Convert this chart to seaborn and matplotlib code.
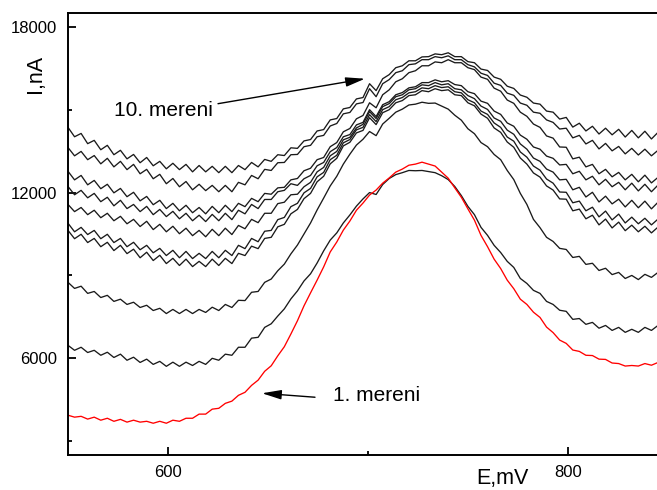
import numpy as np
import pandas as pd
import matplotlib
matplotlib.use("Agg")
import matplotlib.pyplot as plt
import seaborn as sns

# Potential sweep (mV): evenly stepped scan
E_START, E_END, N_POINTS = 550.0, 845.0, 91
potential = np.linspace(E_START, E_END, N_POINTS)

# Current (nA) for each successive measurement, 1 = first scan
run_01 = [3940, 3870, 3900, 3800, 3870, 3760, 3830, 3720, 3790, 3690,
          3760, 3690, 3720, 3650, 3720, 3650, 3760, 3720, 3830, 3830,
          3980, 3980, 4160, 4190, 4370, 4450, 4660, 4770, 5020, 5210,
          5530, 5730, 6090, 6420, 6880, 7360, 7900, 8370, 8830, 9310,
          9850, 10210, 10640, 10970, 11360, 11620, 11910, 12090, 12340, 12530,
          12740, 12850, 12990, 13030, 13100, 13030, 12960, 12740, 12520, 12170,
          11830, 11410, 11000, 10450, 10040, 9590, 9250, 8830, 8520, 8140,
          7950, 7670, 7480, 7130, 6930, 6660, 6540, 6300, 6250, 6110,
          6100, 5970, 5960, 5830, 5810, 5720, 5740, 5720, 5810, 5750,
          5850]
run_02 = [6470, 6290, 6400, 6210, 6290, 6110, 6220, 6030, 6150, 5930,
          6040, 5850, 5970, 5780, 5890, 5710, 5860, 5710, 5860, 5740,
          5890, 5780, 6000, 5930, 6150, 6110, 6400, 6400, 6730, 6760,
          7120, 7250, 7530, 7790, 8150, 8440, 8800, 9060, 9450, 9890,
          10280, 10540, 10900, 11190, 11510, 11770, 12000, 11930, 12290, 12510,
          12650, 12720, 12800, 12790, 12800, 12760, 12720, 12610, 12470, 12220,
          11890, 11500, 11200, 10740, 10450, 10090, 9830, 9510, 9290, 8890,
          8710, 8460, 8350, 8060, 7950, 7740, 7700, 7410, 7440, 7230,
          7300, 7090, 7190, 7010, 7120, 6940, 7050, 6940, 7120, 7010,
          7190]
run_03 = [8750, 8530, 8610, 8350, 8420, 8200, 8280, 8060, 8140, 7950,
          8030, 7840, 7920, 7730, 7810, 7620, 7770, 7620, 7770, 7620,
          7770, 7660, 7850, 7730, 7950, 7840, 8100, 8090, 8390, 8420,
          8750, 8870, 9170, 9410, 9780, 10100, 10500, 10900, 11370, 11800,
          12240, 12590, 13030, 13390, 13720, 13930, 14210, 14060, 14480, 14690,
          14910, 15020, 15170, 15200, 15270, 15230, 15240, 15130, 15020, 14800,
          14620, 14310, 14130, 13810, 13660, 13380, 13190, 12800, 12470, 11970,
          11570, 11030, 10730, 10380, 10230, 9980, 9940, 9650, 9690, 9400,
          9440, 9180, 9260, 9030, 9110, 8890, 9000, 8850, 9040, 8930,
          9110]
run_04 = [10630, 10330, 10490, 10190, 10340, 10040, 10200, 9900, 10090, 9790,
          9950, 9640, 9840, 9540, 9730, 9430, 9620, 9360, 9590, 9320,
          9510, 9320, 9590, 9360, 9620, 9430, 9800, 9720, 10060, 9970,
          10340, 10380, 10760, 10850, 11230, 11390, 11780, 11970, 12390, 12590,
          13040, 13240, 13690, 13820, 14160, 14250, 14710, 14460, 14890, 15000,
          15250, 15330, 15510, 15540, 15690, 15650, 15760, 15690, 15720, 15540,
          15510, 15250, 15140, 14840, 14690, 14340, 14180, 13830, 13640, 13250,
          13030, 12710, 12560, 12240, 12090, 11770, 11760, 11340, 11400, 11050,
          11180, 10830, 11040, 10720, 10930, 10620, 10820, 10580, 10780, 10540,
          10750]
run_05 = [10890, 10580, 10740, 10480, 10630, 10330, 10490, 10190, 10340, 10040,
          10200, 9930, 10090, 9820, 9980, 9720, 9910, 9640, 9870, 9610,
          9800, 9610, 9870, 9640, 9910, 9720, 10090, 9970, 10340, 10220,
          10600, 10630, 11020, 11100, 11490, 11610, 11990, 12150, 12570, 12730,
          13190, 13350, 13800, 13920, 14270, 14360, 14820, 14570, 15000, 15110,
          15360, 15440, 15610, 15650, 15790, 15760, 15870, 15800, 15830, 15650,
          15610, 15360, 15250, 14950, 14830, 14520, 14360, 14010, 13860, 13470,
          13280, 12960, 12810, 12490, 12340, 12020, 12010, 11630, 11690, 11340,
          11470, 11120, 11330, 11010, 11220, 10900, 11110, 10870, 11070, 10830,
          11040]
run_06 = [11570, 11310, 11460, 11200, 11360, 11090, 11250, 10980, 11140, 10870,
          11030, 10770, 10960, 10660, 10850, 10580, 10780, 10510, 10710, 10440,
          10630, 10400, 10670, 10440, 10710, 10480, 10810, 10690, 11030, 10910,
          11250, 11250, 11600, 11650, 11920, 11940, 12210, 12370, 12750, 12910,
          13330, 13490, 13910, 14000, 14340, 14470, 14930, 14680, 15110, 15220,
          15470, 15540, 15720, 15760, 15900, 15870, 15980, 15900, 15940, 15760,
          15720, 15510, 15400, 15130, 15010, 14700, 14580, 14260, 14110, 13760,
          13570, 13250, 13130, 12850, 12740, 12460, 12480, 12100, 12190, 11840,
          12010, 11660, 11870, 11590, 11760, 11480, 11720, 11450, 11690, 11410,
          11650]
run_07 = [12220, 11920, 12080, 11810, 11970, 11670, 11830, 11520, 11720, 11420,
          11570, 11310, 11500, 11200, 11390, 11130, 11320, 11050, 11250, 10980,
          11180, 10950, 11210, 10980, 11250, 11020, 11360, 11230, 11570, 11420,
          11750, 11750, 12030, 12080, 12320, 12260, 12500, 12620, 12970, 13090,
          13480, 13630, 14020, 14100, 14450, 14540, 15000, 14750, 15180, 15290,
          15540, 15620, 15790, 15830, 15980, 15980, 16080, 16010, 16050, 15910,
          15870, 15650, 15580, 15310, 15230, 14950, 14830, 14520, 14400, 14080,
          13930, 13650, 13570, 13320, 13240, 13000, 13020, 12680, 12770, 12460,
          12590, 12280, 12480, 12210, 12370, 12100, 12340, 12060, 12300, 12030,
          12270]
run_08 = [12770, 12460, 12620, 12280, 12440, 12140, 12300, 11990, 12150, 11850,
          12010, 11700, 11860, 11560, 11720, 11420, 11610, 11340, 11540, 11270,
          11460, 11230, 11500, 11270, 11540, 11310, 11610, 11490, 11790, 11670,
          11970, 11940, 12170, 12190, 12460, 12510, 12790, 12880, 13190, 13270,
          13660, 13810, 14200, 14320, 14670, 14790, 15250, 15070, 15540, 15720,
          16010, 16120, 16340, 16410, 16590, 16590, 16730, 16700, 16810, 16700,
          16700, 16520, 16450, 16180, 16100, 15780, 15670, 15350, 15230, 14910,
          14760, 14480, 14360, 14050, 13970, 13650, 13640, 13220, 13280, 12930,
          13020, 12680, 12840, 12570, 12730, 12460, 12660, 12390, 12630, 12350,
          12550]
run_09 = [13630, 13330, 13490, 13190, 13340, 13040, 13240, 12930, 13130, 12830,
          13020, 12680, 12840, 12500, 12660, 12320, 12510, 12210, 12400, 12100,
          12300, 12070, 12260, 12030, 12260, 12030, 12370, 12280, 12620, 12500,
          12840, 12800, 13080, 13090, 13370, 13380, 13660, 13710, 14020, 14070,
          14410, 14500, 14850, 14900, 15210, 15260, 15760, 15470, 15940, 16090,
          16340, 16410, 16630, 16660, 16810, 16810, 16920, 16880, 16950, 16810,
          16810, 16630, 16550, 16320, 16240, 15960, 15880, 15600, 15520, 15240,
          15160, 14910, 14870, 14630, 14540, 14300, 14330, 13980, 14070, 13760,
          13890, 13580, 13780, 13510, 13670, 13400, 13600, 13360, 13570, 13330,
          13530]
run_10 = [14360, 14020, 14140, 13770, 13890, 13550, 13710, 13370, 13530, 13220,
          13380, 13080, 13270, 12970, 13130, 12860, 13060, 12830, 13020, 12750,
          12980, 12750, 12950, 12720, 12950, 12720, 12980, 12830, 13090, 12930,
          13200, 13130, 13370, 13340, 13620, 13600, 13870, 13920, 14230, 14280,
          14630, 14680, 15030, 15080, 15390, 15440, 15940, 15690, 16120, 16270,
          16520, 16590, 16770, 16770, 16910, 16920, 17020, 16990, 17060, 16920,
          16920, 16740, 16700, 16470, 16420, 16180, 16100, 15850, 15770, 15530,
          15450, 15240, 15200, 14950, 14910, 14660, 14720, 14370, 14510, 14230,
          14400, 14120, 14330, 14090, 14290, 14010, 14250, 13980, 14220, 13940,
          14180]

runs = {1: run_01, 2: run_02, 3: run_03, 4: run_04, 5: run_05,
        6: run_06, 7: run_07, 8: run_08, 9: run_09, 10: run_10}

df = pd.concat(
    [pd.DataFrame({"E": potential, "I": vals, "run": str(k)}) for k, vals in runs.items()],
    ignore_index=True,
)

sns.set_theme(style="ticks")
plt.rcParams["font.family"] = ["Liberation Sans", "DejaVu Sans"]

fig = plt.figure(figsize=(6.57, 4.90), dpi=100)
ax = fig.add_axes([68 / 657, 35 / 490, 590 / 657, 442 / 490])

palette = {str(k): ("#ff0000" if k == 1 else "#1a1a1a") for k in runs}
order = [str(k) for k in range(10, 0, -1)]  # first scan drawn last, on top
sns.lineplot(data=df, x="E", y="I", hue="run", hue_order=order, palette=palette,
             estimator=None, sort=False, legend=False, linewidth=0.95, ax=ax)

ax.set_xlim(550, 845)
ax.set_ylim(2500, 18500)
ax.set_xticks([600, 800])
ax.set_xticks([700], minor=True)
ax.set_yticks([6000, 12000, 18000])
ax.set_yticks([3000, 9000, 15000], minor=True)
ax.tick_params(which="both", direction="in", top=False, right=False,
               width=1.3, color="black", labelcolor="black")
ax.tick_params(which="major", length=5.8)
ax.tick_params(which="minor", length=2.9)
ax.tick_params(axis="x", labelsize=12, pad=7)
ax.tick_params(axis="y", labelsize=12, pad=8)

for side in ("left", "bottom", "top"):
    ax.spines[side].set_visible(True)
    ax.spines[side].set_linewidth(1.4)
    ax.spines[side].set_color("black")
ax.spines["right"].set_visible(False)

ax.set_xlabel("E,mV", fontsize=15.5, color="black")
ax.xaxis.set_label_coords(0.737, -0.03)
ax.set_ylabel("I,nA", fontsize=15.5, color="black")
ax.yaxis.set_label_coords(-0.037, 0.862)

arrow = dict(arrowstyle="-|>,head_length=0.9,head_width=0.22", color="black",
             lw=1.0, mutation_scale=13, shrinkA=0, shrinkB=0)
ax.text(597.5, 14964, "10. mereni", fontsize=15, ha="center", va="center", color="black")
ax.annotate("", xy=(698.5, 16121), xytext=(625, 15217), arrowprops=arrow)
ax.text(704.5, 4663, "1. mereni", fontsize=15, ha="center", va="center", color="black")
ax.annotate("", xy=(647, 4735), xytext=(673.5, 4591), arrowprops=arrow)

fig.savefig("out.png", dpi=100)
